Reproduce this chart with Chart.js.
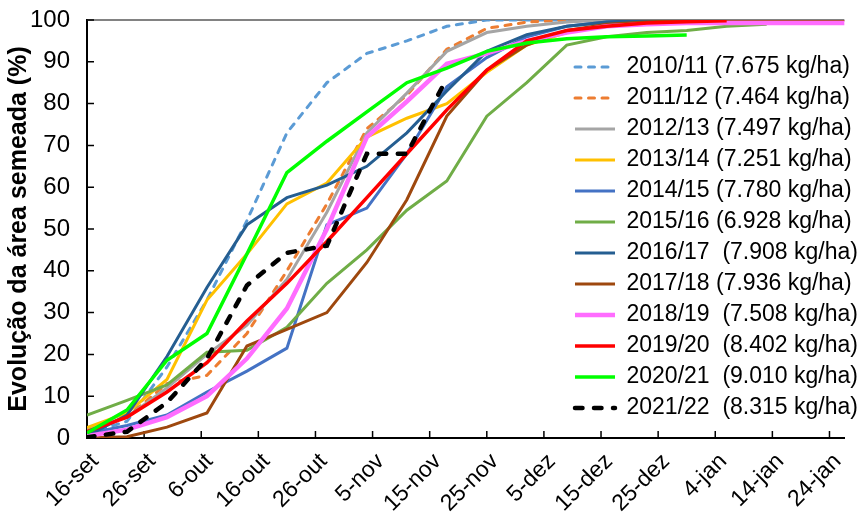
<!DOCTYPE html>
<html lang="pt">
<head>
<meta charset="utf-8">
<title>Evolução da área semeada</title>
<script src="https://cdn.jsdelivr.net/npm/chart.js@4.4.1/dist/chart.umd.min.js"></script>
<style>
  html, body { margin: 0; padding: 0; background: #fff; }
</style>
</head>
<body>
<canvas id="plantingChart" width="859" height="515"></canvas>
<script>
'use strict';

// ***** DATA *****
// x = days after 16-set, one report per week
const weekDays = [0, 7, 14, 21, 28, 35, 42, 49, 56, 63, 70, 77, 84, 91, 98, 105, 112, 119, 126, 133];

const tickDays = [0, 10, 20, 30, 40, 50, 60, 70, 80, 90, 100, 110, 120, 130];
const tickLabels = ['16-set', '26-set', '6-out', '16-out', '26-out', '5-nov', '15-nov', '25-nov', '5-dez', '15-dez', '25-dez', '4-jan', '14-jan', '24-jan'];

const seasonNames = [
  '2010/11 (7.675 kg/ha)', '2011/12 (7.464 kg/ha)', '2012/13 (7.497 kg/ha)', '2013/14 (7.251 kg/ha)',
  '2014/15 (7.780 kg/ha)', '2015/16 (6.928 kg/ha)', '2016/17  (7.908 kg/ha)', '2017/18 (7.936 kg/ha)',
  '2018/19  (7.508 kg/ha)', '2019/20  (8.402 kg/ha)', '2020/21  (9.010 kg/ha)', '2021/22  (8.315 kg/ha)'
];

// % of area planted, per week
const s2010 = [1, 4, 17, 33, 52, 73, 85, 92, 95, 98.5, 100, 100, 100];
const s2011 = [1.5, 5, 13, 15, 25, 40, 56, 74, 82, 93, 98, 99.5, 100];
const s2012 = [2, 5, 12, 20, 27, 38, 54, 73, 82.5, 92.5, 97, 98.5, 99.5, 100, 100];
const s2013 = [2.5, 6, 14, 33, 44, 56, 61, 72, 76.5, 80, 87.5, 94, 97, 99, 99.5, 100];
const s2014 = [1, 3, 5.5, 11, 16, 21.5, 51, 55, 68, 84, 91, 96, 98.5, 99.5, 100];
const s2015 = [5.5, 9, 12.7, 20.5, 21, 26.5, 37, 45, 54.5, 61.5, 77, 85, 94, 96, 97, 97.5, 98.5, 99];
const s2016 = [0.5, 5.5, 19.5, 36, 51, 57.5, 60.5, 65, 73, 83, 92.5, 96.5, 98.5, 99.5, 100, 100, 100, 100, 100];
const s2017 = [0, 0.3, 2.6, 6, 22, 26, 30, 42, 57, 77, 88, 94, 97.5, 99, 99.5, 100, 100, 100, 100, 100];
const s2018 = [0.5, 2, 5, 10, 19, 31, 50, 72, 80.5, 89.5, 92, 95, 97, 98.5, 99, 99.3, 99.3, 99.3, 99.3, 99.3];
const s2019 = [1.5, 5, 11, 18, 28, 37, 47, 57.5, 68, 78.5, 88, 95, 97.5, 98.5, 99.3, 99.6, 99.8];
const s2020 = [1.2, 6.7, 18.6, 25, 44, 63.5, 71, 78, 85, 88.5, 92.5, 94.5, 95.5, 96, 96.2, 96.4];
const s2021 = [0.2, 1.5, 8.5, 19, 36.5, 44.3, 46, 68, 68, 86];

const seasonValues = [s2010, s2011, s2012, s2013, s2014, s2015, s2016, s2017, s2018, s2019, s2020, s2021];

// ***** STYLES *****
const seasonColors = ['#5B9BD5', '#ED7D31', '#A5A5A5', '#FFC000', '#4472C4', '#70AD47',
  '#255E91', '#9E480E', '#FF6CFF', '#FF0000', '#00FF00', '#000000'];
const seasonWidths = [3, 3, 3, 3, 3, 3, 3, 3, 4.5, 3.5, 3.5, 4.5];
const seasonDashes = [[6, 7.5], [6, 7.5], [], [], [], [], [], [], [], [], [], [7.5, 11.5]];

// ***** HELPERS *****
function toPoints(values){
  return values.map((v, i) => ({ x: weekDays[i], y: v }));
}

function capFor(i){
  return seasonDashes[i].length ? 'round' : 'butt';
}

function buildDatasets(){
  let sets = [];
  for(let i = 0; i < seasonValues.length; i++){
    sets.push({
      label: seasonNames[i],
      data: toPoints(seasonValues[i]),
      borderColor: seasonColors[i],
      backgroundColor: seasonColors[i],
      borderWidth: seasonWidths[i],
      borderDash: seasonDashes[i],
      borderCapStyle: capFor(i),
      pointRadius: 0,
      fill: false,
      tension: 0,
      order: seasonValues.length - i
    });
  }
  return sets;
}

// legend samples: take dash + cap from the line, not the point
function legendLabels(chart){
  let items = Chart.defaults.plugins.legend.labels.generateLabels(chart);
  items.forEach(item => {
    item.lineDash = seasonDashes[item.datasetIndex];
    item.lineCap = capFor(item.datasetIndex);
    item.lineWidth = seasonWidths[item.datasetIndex];
  });
  return items;
}

// inside tick marks + top border, like the spreadsheet chart
const axisFrame = {
  id: 'axisFrame',
  beforeDatasetsDraw(chart){
    const {ctx, chartArea, scales} = chart;
    ctx.save();
    ctx.strokeStyle = '#595959';
    ctx.lineWidth = 1.5;
    ctx.beginPath();
    ctx.moveTo(chartArea.left, chartArea.top);
    ctx.lineTo(chartArea.right, chartArea.top);
    ctx.stroke();
    ctx.strokeStyle = '#000';
    ctx.lineWidth = 1.5;
    ctx.beginPath();
    scales.x.ticks.forEach(t => {
      const px = scales.x.getPixelForValue(t.value);
      ctx.moveTo(px, chartArea.bottom);
      ctx.lineTo(px, chartArea.bottom - 7);
    });
    scales.y.ticks.forEach(t => {
      const py = scales.y.getPixelForValue(t.value);
      ctx.moveTo(chartArea.left, py);
      ctx.lineTo(chartArea.left + 7, py);
    });
    ctx.stroke();
    ctx.restore();
  }
};

// move the legend into the right side of the plot
const legendSpot = {
  id: 'legendSpot',
  afterLayout(chart){
    const lg = chart.legend;
    lg.left = 567;
    lg.top = 47.5;
    lg.right = 859;
    lg.bottom = 515;
  }
};

// ***** CHART *****
Chart.defaults.font.family = 'Arial, "Liberation Sans", sans-serif';
Chart.defaults.color = '#000';

const canvasElem = document.getElementById('plantingChart');

new Chart(canvasElem, {
  type: 'line',
  data: { datasets: buildDatasets() },
  options: {
    responsive: false,
    animation: false,
    layout: { padding: { top: 20, right: 0, bottom: 0, left: 0 } },
    plugins: {
      tooltip: { enabled: false },
      legend: {
        position: 'chartArea',
        align: 'start',
        labels: {
          usePointStyle: true,
          pointStyle: 'line',
          pointStyleWidth: 40,
          padding: 8,
          color: '#000',
          font: { size: 23 },
          generateLabels: legendLabels,
          sort: (a, b) => a.datasetIndex - b.datasetIndex
        }
      }
    },
    scales: {
      x: {
        type: 'linear',
        min: 0,
        max: 132.6,
        afterBuildTicks: scale => { scale.ticks = tickDays.map(v => ({ value: v })); },
        afterFit: scale => { scale.height = 77; },
        grid: { drawOnChartArea: false, drawTicks: false },
        border: { display: true, color: '#000', width: 2 },
        ticks: {
          autoSkip: false,
          minRotation: 45,
          maxRotation: 45,
          padding: 10,
          labelOffset: 8,
          color: '#000',
          font: { size: 23 },
          callback: (value, index) => tickLabels[index]
        }
      },
      y: {
        min: 0,
        max: 100,
        afterFit: scale => { scale.width = 87; },
        // tick marks are drawn inside by axisFrame; keep an invisible gap here
        grid: { drawOnChartArea: false, drawTicks: true, tickLength: 13, tickColor: 'rgba(0,0,0,0)' },
        border: { display: true, color: '#000', width: 2 },
        ticks: { stepSize: 10, padding: 4, color: '#000', font: { size: 24 } },
        title: {
          display: true,
          text: 'Evolução da área semeada (%)',
          color: '#000',
          font: { size: 25, weight: 'bold' },
          padding: { top: 4, bottom: 0 }
        }
      }
    }
  },
  plugins: [axisFrame, legendSpot]
});
</script>
</body>
</html>
